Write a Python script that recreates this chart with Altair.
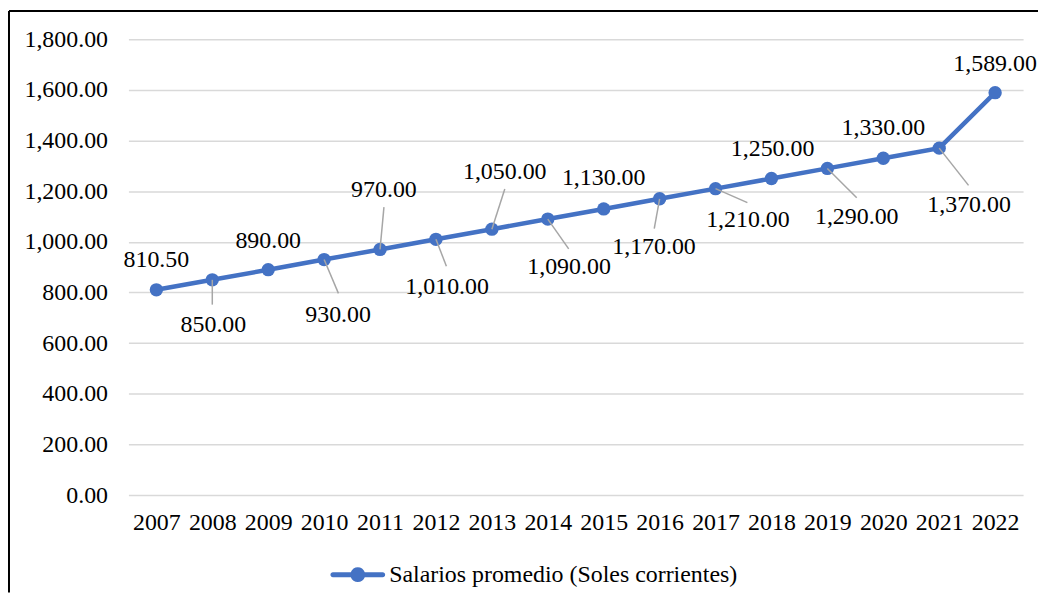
import altair as alt
import pandas as pd

# ---- data ----
years = list(range(2007, 2023))
salarios = [810.5, 850, 890, 930, 970, 1010, 1050, 1090, 1130, 1170,
            1210, 1250, 1290, 1330, 1370, 1589]
y_ticks = [0, 200, 400, 600, 800, 1000, 1200, 1400, 1600, 1800]
series_name = "Salarios promedio (Soles corrientes)"

# ---- label placement (offsets in data units: years / soles) ----
label_dx = [0, 0.02, 0, 0.25, 0.07, 0.20, 0.23, 0.38, 0, -0.10, 0.58, 0.02, 0.525, 0, 0.535, 0]
label_dy = [118, -177, 114, -220, 236, -188, 224, -188, 122, -192, -122, 118, -192, 118, -224, 114]
leader_dx = [None, 0.0, None, 0.256, 0.07, 0.187, 0.231, 0.374, None, -0.096, 0.57, None, 0.525, None, 0.525, None]
leader_dy = [None, -98, None, -133.5, 167, -106, 159, -118, None, -118, -55, None, -116, None, -147, None]

df = pd.DataFrame({"year": years, "value": salarios, "serie": [series_name] * len(years)})
df["lx"] = [y + d for y, d in zip(years, label_dx)]
df["ly"] = [v + d for v, d in zip(salarios, label_dy)]
lead = pd.DataFrame({
    "year": years, "value": salarios,
    "ex": [None if d is None else y + d for y, d in zip(years, leader_dx)],
    "ey": [None if d is None else v + d for v, d in zip(salarios, leader_dy)],
}).dropna()

W, H = 899, 458
FONT = "Liberation Serif"
BLUE = "#4472C4"

def xenc(field):
    return alt.X(f"{field}:Q",
                 scale=alt.Scale(domain=[2006.5, 2022.5], nice=False, zero=False),
                 axis=alt.Axis(values=years, format="d", title=None, grid=False, ticks=False,
                               tickSize=0, domain=False, labelFont=FONT, labelFontSize=24,
                               labelColor="black", labelPadding=16, labelFlush=False,
                               labelOverlap=False, labelBound=False))

def yenc(field):
    return alt.Y(f"{field}:Q",
                 scale=alt.Scale(domain=[0, 1800], nice=False, zero=True),
                 axis=alt.Axis(values=y_ticks, format=",.2f", title=None, grid=True,
                               gridColor="#d9d9d9", gridWidth=1.5, ticks=False, tickSize=0,
                               domain=False, labelFont=FONT, labelFontSize=24,
                               labelColor="black", labelPadding=21))

LEGEND_PATH = ("M-0.91,-0.09 L-0.2546,-0.09 A0.27,0.27 0 0,1 0.2546,-0.09 L0.91,-0.09 "
               "A0.09,0.09 0 0,1 0.91,0.09 L0.2546,0.09 A0.27,0.27 0 0,1 -0.2546,0.09 "
               "L-0.91,0.09 A0.09,0.09 0 0,1 -0.91,-0.09 Z")

base = alt.Chart(df)

line = base.mark_line(color=BLUE, strokeWidth=4.5).encode(x=xenc("year"), y=yenc("value"))

points = base.mark_point(filled=True, shape="circle", size=180, opacity=1).encode(
    x=xenc("year"), y=yenc("value"),
    color=alt.Color("serie:N", scale=alt.Scale(range=[BLUE]),
                    legend=alt.Legend(title=None, orient="none", legendX=203, legendY=510.5,
                                      symbolType=LEGEND_PATH, symbolSize=3025,
                                      symbolFillColor=BLUE, symbolStrokeColor=BLUE,
                                      symbolStrokeWidth=0, symbolOpacity=1,
                                      labelFont=FONT, labelFontSize=24, labelColor="black",
                                      labelOffset=4, padding=0, labelLimit=600)))

leaders = alt.Chart(lead).mark_rule(color="#a6a6a6", strokeWidth=1.5).encode(
    x=xenc("year"), y=yenc("value"), x2="ex:Q", y2="ey:Q")

labels = base.mark_text(font=FONT, fontSize=24, color="black", align="center",
                        baseline="middle").encode(
    x=xenc("lx"), y=yenc("ly"), text=alt.Text("value:Q", format=",.2f"))

one = pd.DataFrame({"f": [0]})
frame_left = alt.Chart(one).mark_rule(color="black", strokeWidth=2).encode(
    x=alt.value(-120), y=alt.value(-28.5), y2=alt.value(H + 98))
frame_top = alt.Chart(one).mark_rule(color="black", strokeWidth=2).encode(
    x=alt.value(-120), x2=alt.value(W + 15), y=alt.value(-28.5))

chart = alt.layer(line, points, leaders, labels, frame_left, frame_top).properties(
    width=W, height=H,
    autosize=alt.AutoSizeParams(type="none"),
    padding={"left": 121, "top": 30, "right": 15, "bottom": 98},
    background="white",
).configure_view(strokeWidth=0)

chart.save("out.html", embed_options={"renderer": "svg", "actions": False})
